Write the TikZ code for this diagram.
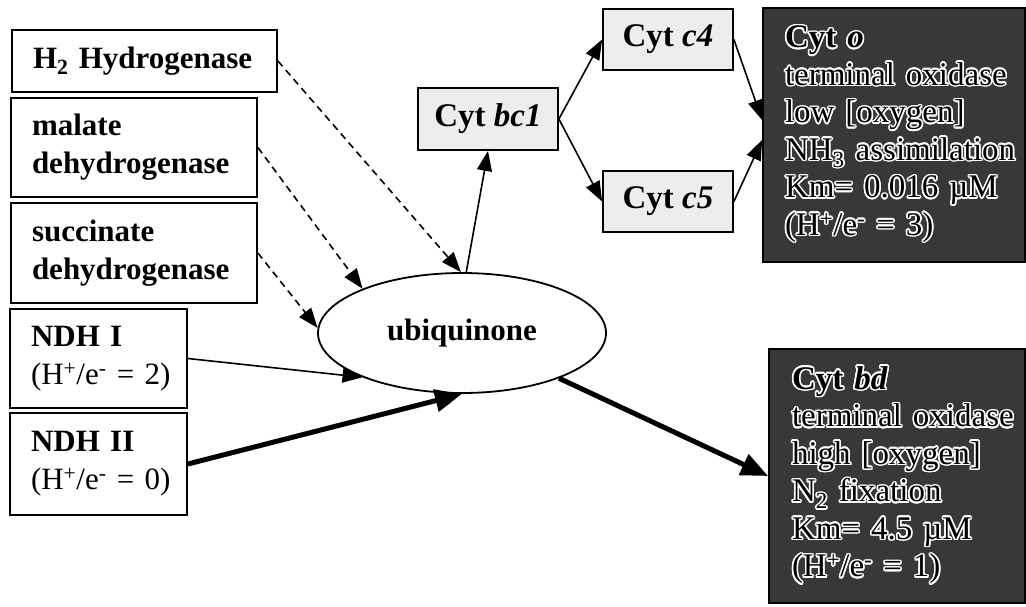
\documentclass[tikz,border=0pt]{standalone}
\usepackage{fontspec}
\setmainfont{Liberation Serif}
\usepackage{contour}
\contourlength{1.6pt}
\usetikzlibrary{arrows.meta,shapes.geometric}
% one outlined line of text for the dark oxidase boxes
\newcommand{\oxline}[1]{\contour{white}{#1}}

\begin{document}
\begin{tikzpicture}[x=1pt,y=-1pt,
  srcbox/.style={draw, line width=1.8pt, rectangle, align=left,
    inner xsep=21pt, inner ysep=0pt, font=\fontsize{31}{38}\selectfont},
  cytbox/.style={draw, line width=1.8pt, rectangle, fill=gray!14,
    inner sep=0pt, font=\fontsize{33}{38}\selectfont\bfseries},
  oxbox/.style={draw, line width=1.8pt, rectangle, fill=black!78,
    align=left, inner xsep=22pt, inner ysep=0pt, font=\fontsize{33}{37.5}\selectfont},
  quin/.style={draw, line width=1.8pt, ellipse, inner sep=0pt,
    minimum width=288pt, minimum height=120pt, font=\fontsize{31}{38}\selectfont\bfseries},
  arr/.style={-{Triangle[length=20pt,width=15pt]}, line width=1.6pt},
  darr/.style={arr, dash pattern=on 7pt off 5pt},
  tarr/.style={-{Triangle[length=27pt,width=22pt]}, line width=5pt},
]
\useasboundingbox (0,0) rectangle (1026,606);

% electron donors (each line kept whole with \mbox)
\node[srcbox, minimum width=265pt, minimum height=62pt, text width=223pt]
  (h2) at (144.5,61) {\mbox{\textbf{H\textsubscript{2} Hydrogenase}}};
\node[srcbox, minimum width=246pt, minimum height=99pt, text width=204pt]
  (mdh) at (134,147.5) {\mbox{\textbf{malate}}\\\mbox{\textbf{dehydrogenase}}};
\node[srcbox, minimum width=246pt, minimum height=100pt, text width=204pt]
  (sdh) at (134,253) {\mbox{\textbf{succinate}}\\\mbox{\textbf{dehydrogenase}}};
\node[srcbox, minimum width=177pt, minimum height=99pt, text width=135pt]
  (ndha) at (98.5,358.5) {\mbox{\textbf{NDH I}}\\\mbox{(H\textsuperscript{+}/e\textsuperscript{-} = 2)}};
\node[srcbox, minimum width=177pt, minimum height=102pt, text width=135pt]
  (ndhb) at (98.5,464) {\mbox{\textbf{NDH II}}\\\mbox{(H\textsuperscript{+}/e\textsuperscript{-} = 0)}};

% quinone pool
\node[quin] (ubi) at (462,333) {ubiquinone};

% cytochromes
\node[cytbox, minimum width=140pt, minimum height=62pt] (bc1) at (488,119) {Cyt \textit{bc1}};
\node[cytbox, minimum width=130pt, minimum height=61pt] (c4) at (668,39.5) {Cyt \textit{c4}};
\node[cytbox, minimum width=130pt, minimum height=61pt] (c5) at (668,201.5) {Cyt \textit{c5}};

% terminal oxidases
\node[oxbox, minimum width=262pt, minimum height=254pt, text width=218pt] (cyto) at (894,135)
  {\oxline{\textbf{Cyt \textit{o}}}\\
   \oxline{terminal oxidase}\\
   \oxline{low [oxygen]}\\
   \oxline{NH\textsubscript{3} assimilation}\\
   \oxline{Km= 0.016 µM}\\
   \oxline{(H\textsuperscript{+}/e\textsuperscript{-} = 3)}};
\node[oxbox, minimum width=256pt, minimum height=254pt, text width=210pt] (cytbd) at (897,476)
  {\oxline{\textbf{Cyt \textit{bd}}}\\
   \oxline{terminal oxidase}\\
   \oxline{high [oxygen]}\\
   \oxline{N\textsubscript{2} fixation}\\
   \oxline{Km= 4.5 µM}\\
   \oxline{(H\textsuperscript{+}/e\textsuperscript{-} = 1)}};

% electron flow
\draw[darr] (h2.east) -- (ubi.91);
\draw[darr] (mdh.east) -- (ubi.156);
\draw[darr] (sdh.east) -- (ubi.178);
\draw[arr] (ndha.east) -- (ubi.204);
\draw[tarr] (ndhb.east) -- (ubi.south);
\draw[arr] (ubi.86) -- (bc1.south);
\draw[arr] (bc1.east) -- (c4.west);
\draw[arr] (bc1.east) -- (c5.west);
\draw[arr] (c4.east) -- ([yshift=15pt]cyto.west);
\draw[arr] (c5.east) -- ([yshift=-5pt]cyto.west);
\draw[tarr] (ubi.335) -- (cytbd.west);
\end{tikzpicture}
\end{document}
